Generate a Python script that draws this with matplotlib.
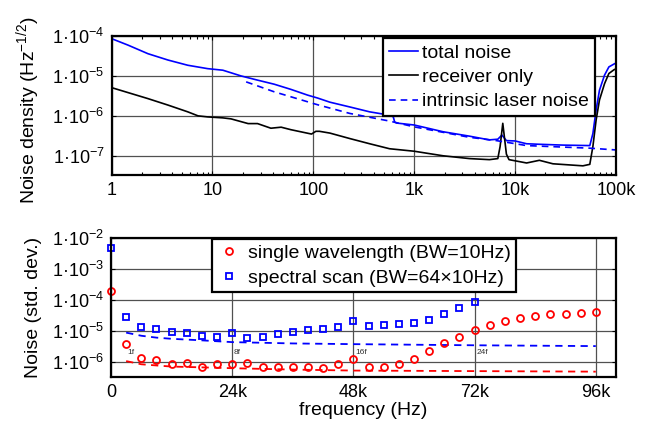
import matplotlib
matplotlib.use("Agg")
import matplotlib.pyplot as plt
from matplotlib.ticker import FixedLocator, LogLocator, NullFormatter
import numpy as np

plt.rcParams["font.family"] = ["Liberation Sans", "DejaVu Sans"]
plt.rcParams["mathtext.fontset"] = "custom"
plt.rcParams["mathtext.rm"] = "Liberation Sans"
plt.rcParams["mathtext.it"] = "Liberation Sans:italic"
plt.rcParams["mathtext.bf"] = "Liberation Sans:bold"

# ---- top panel: noise spectral density ----
f_total = [1, 1.46, 2.3, 3.63, 5.7, 9.0, 12.7, 19.2, 28.3, 41, 60, 88, 110,
           146, 230, 362, 570, 620, 640, 670, 1000, 1930, 3530, 5560, 6740,
           7400, 8200, 10000, 13000, 17400, 30000, 55000, 59000, 63500,
           68600, 77000, 85000, 96000, 100000]
total = [8.6e-5, 5.9e-5, 3.6e-5, 2.5e-5, 1.85e-5, 1.52e-5, 1.39e-5, 1.0e-5,
         7.8e-6, 6.2e-6, 4.6e-6, 3.3e-6, 2.8e-6, 2.2e-6, 1.67e-6, 1.26e-6,
         1.04e-6, 9.5e-7, 7.0e-7, 6.6e-7, 5.9e-7, 4.0e-7, 3.1e-7, 2.5e-7,
         2.6e-7, 3.3e-7, 2.4e-7, 2.35e-7, 2.0e-7, 1.94e-7, 1.85e-7, 1.8e-7,
         3.6e-7, 1.4e-6, 4.4e-6, 1.05e-5, 1.68e-5, 2.0e-5, 2.1e-5]

f_recv = [1, 2.3, 3.63, 5.7, 7.2, 9.0, 12.7, 15.3, 22.6, 28, 38, 48, 60, 96,
          106, 115, 146, 230, 362, 570, 1000, 1930, 3530, 5560, 6740, 7100,
          7550, 8200, 8700, 13000, 17400, 23700, 47000, 55000, 59000, 63500,
          68600, 77000, 85000, 96000, 100000]
recv = [5.1e-6, 2.7e-6, 1.86e-6, 1.26e-6, 1.0e-6, 9.4e-7, 8.9e-7, 8.4e-7,
        6.4e-7, 6.4e-7, 4.9e-7, 5.2e-7, 4.5e-7, 3.5e-7, 4.1e-7, 4.1e-7,
        3.7e-7, 2.7e-7, 2.0e-7, 1.5e-7, 1.3e-7, 1.0e-7, 8.5e-8, 8.0e-8,
        8.5e-8, 1.7e-7, 6.5e-7, 1.1e-7, 8.0e-8, 6.6e-8, 7.7e-8, 6.3e-8,
        5.6e-8, 6.1e-8, 1.7e-7, 7.8e-7, 2.5e-6, 6.4e-6, 1.15e-5, 1.44e-5,
        1.5e-5]

f_laser = [21.6, 41, 110, 230, 570, 1000, 3530, 6500, 13000, 30000, 55000,
           100000]
laser = [7.1e-6, 4.0e-6, 1.9e-6, 1.15e-6, 7.4e-7, 5.3e-7, 2.9e-7, 2.4e-7,
         1.8e-7, 1.65e-7, 1.55e-7, 1.4e-7]

top_xticks = [1, 10, 100, 1000, 10000, 100000]
top_xlabels = ["1", "10", "100", "1k", "10k", "100k"]
top_yticks = [1e-7, 1e-6, 1e-5, 1e-4]

# ---- bottom panel: noise vs. modulation frequency ----
f_single = [i * 3000 for i in range(33)]
single = [1.9e-4, 3.8e-6, 1.3e-6, 1.1e-6, 8.7e-7, 9.3e-7, 6.6e-7, 8.3e-7,
          8.7e-7, 9.0e-7, 6.6e-7, 6.7e-7, 6.7e-7, 6.6e-7, 6.5e-7, 8.7e-7,
          1.26e-6, 6.7e-7, 6.7e-7, 8.7e-7, 1.2e-6, 2.2e-6, 3.9e-6, 6.4e-6,
          1.02e-5, 1.48e-5, 2.05e-5, 2.6e-5, 3.1e-5, 3.4e-5, 3.5e-5, 3.7e-5,
          4.1e-5]

f_scan = [i * 3000 for i in range(25)]
scan = [4.7e-3, 2.7e-5, 1.35e-5, 1.14e-5, 9.3e-6, 8.5e-6, 6.8e-6, 6.3e-6,
        8.7e-6, 6.0e-6, 6.4e-6, 7.6e-6, 8.9e-6, 1.02e-5, 1.15e-5, 1.3e-5,
        2.0e-5, 1.45e-5, 1.5e-5, 1.6e-5, 1.8e-5, 2.3e-5, 3.5e-5, 5.5e-5,
        8.7e-5]

f_fit = [3000, 6000, 9000, 12000, 18000, 24000, 36000, 48000, 72000, 96000]
fit_single = [1.05e-6, 8.3e-7, 7.6e-7, 7.0e-7, 6.6e-7, 6.2e-7, 5.6e-7, 5.2e-7,
              5.0e-7, 4.8e-7]
fit_scan = [8.7e-6, 6.9e-6, 6.0e-6, 5.5e-6, 4.9e-6, 4.3e-6, 3.9e-6, 3.7e-6,
            3.4e-6, 3.2e-6]

harm_pos = [3000, 24000, 48000, 72000]
harm_labels = ["1f", "8f", "16f", "24f"]

bot_xticks = [0, 24000, 48000, 72000, 96000]
bot_xlabels = ["0", "24k", "48k", "72k", "96k"]
bot_yticks = [1e-6, 1e-5, 1e-4, 1e-3, 1e-2]

W, H = 651, 425
fig = plt.figure(figsize=(W / 100, H / 100), dpi=100)

grid_kw = dict(color="#505050", linewidth=0.9)
FS = 14
TFS = 13


def sci(v):
    return "1\u00b710$^{%d}$" % int(round(np.log10(v)))


def style(ax):
    for s in ax.spines.values():
        s.set_linewidth(1.6)
    ax.tick_params(which="both", direction="in", top=True, right=True,
                   labelsize=TFS, width=0.8, pad=5)
    ax.tick_params(which="major", length=3)
    ax.tick_params(which="minor", length=2)


# top axes
ax1 = fig.add_axes([111.5 / W, 1 - 175 / H, 504.5 / W, 139 / H])
ax1.plot(f_total, total, color="#0000ff", lw=1.2, label="total noise")
ax1.plot(f_recv, recv, color="black", lw=1.2, label="receiver only")
ax1.plot(f_laser, laser, color="#0000ff", lw=1.2, ls=(0, (4, 3)),
         label="intrinsic laser noise")
ax1.set_xscale("log")
ax1.set_yscale("log")
ax1.set_xlim(1, 1e5)
ax1.set_ylim(3.3e-8, 1e-4)
ax1.xaxis.set_major_locator(FixedLocator(top_xticks))
ax1.set_xticklabels(top_xlabels)
ax1.xaxis.set_minor_locator(LogLocator(base=10, subs=np.arange(2, 10)))
ax1.xaxis.set_minor_formatter(NullFormatter())
ax1.yaxis.set_major_locator(FixedLocator(top_yticks))
ax1.set_yticklabels([sci(v) for v in top_yticks])
ax1.yaxis.set_minor_locator(LogLocator(base=10, subs=np.arange(2, 10)))
ax1.yaxis.set_minor_formatter(NullFormatter())
ax1.grid(True, which="major", **grid_kw)
style(ax1)
ax1.set_ylabel("Noise density (Hz$^{-1/2}$)", fontsize=FS)
ax1.yaxis.set_label_coords(-0.138, 0.47)
leg1 = ax1.legend(loc="upper right", bbox_to_anchor=(0.958, 0.985),
                  borderaxespad=0, fontsize=FS, handlelength=1.5,
                  handletextpad=0.2, labelspacing=0.35, borderpad=0.3,
                  fancybox=False, framealpha=1)
leg1.get_frame().set_edgecolor("black")
leg1.get_frame().set_linewidth(1.6)

# bottom axes
ax2 = fig.add_axes([111 / W, 1 - 376.7 / H, 505 / W, 139 / H])
ax2.plot(f_fit, fit_single, color="#ff0000", lw=1.3, ls=(0, (4, 3)))
ax2.plot(f_fit, fit_scan, color="#0000ff", lw=1.3, ls=(0, (4, 3)))
ax2.plot(f_single, single, ls="none", marker="o", ms=5, mfc="none",
         mec="#ff0000", mew=1.3, clip_on=False,
         label="single wavelength (BW=10Hz)")
ax2.plot(f_scan, scan, ls="none", marker="s", ms=4.5, mfc="none",
         mec="#0000ff", mew=1.3, clip_on=False,
         label="spectral scan (BW=64\u00d710Hz)")
for xp, lab in zip(harm_pos, harm_labels):
    ax2.text(xp + 300, 2.0e-6, lab, fontsize=6, ha="left", va="center",
             color="#333333")
ax2.set_yscale("log")
ax2.set_xlim(0, 100000)
ax2.set_ylim(3.3e-7, 1e-2)
ax2.xaxis.set_major_locator(FixedLocator(bot_xticks))
ax2.set_xticklabels(bot_xlabels)
ax2.yaxis.set_major_locator(FixedLocator(bot_yticks))
ax2.set_yticklabels([sci(v) for v in bot_yticks])
ax2.yaxis.set_minor_locator(LogLocator(base=10, subs=np.arange(2, 10)))
ax2.yaxis.set_minor_formatter(NullFormatter())
ax2.grid(True, which="major", **grid_kw)
style(ax2)
ax2.tick_params(axis="x", which="both", length=0)
ax2.set_ylabel("Noise (std. dev.)", fontsize=FS)
ax2.yaxis.set_label_coords(-0.137, 0.5)
ax2.set_xlabel("frequency (Hz)", fontsize=FS, labelpad=1)
leg2 = ax2.legend(loc="upper right", bbox_to_anchor=(0.802, 0.99),
                  borderaxespad=0, fontsize=FS, handlelength=1.2,
                  handletextpad=0.4, labelspacing=0.4, borderpad=0.25,
                  fancybox=False, framealpha=1)
leg2.get_frame().set_edgecolor("black")
leg2.get_frame().set_linewidth(1.6)

fig.savefig("out.png", dpi=100)
